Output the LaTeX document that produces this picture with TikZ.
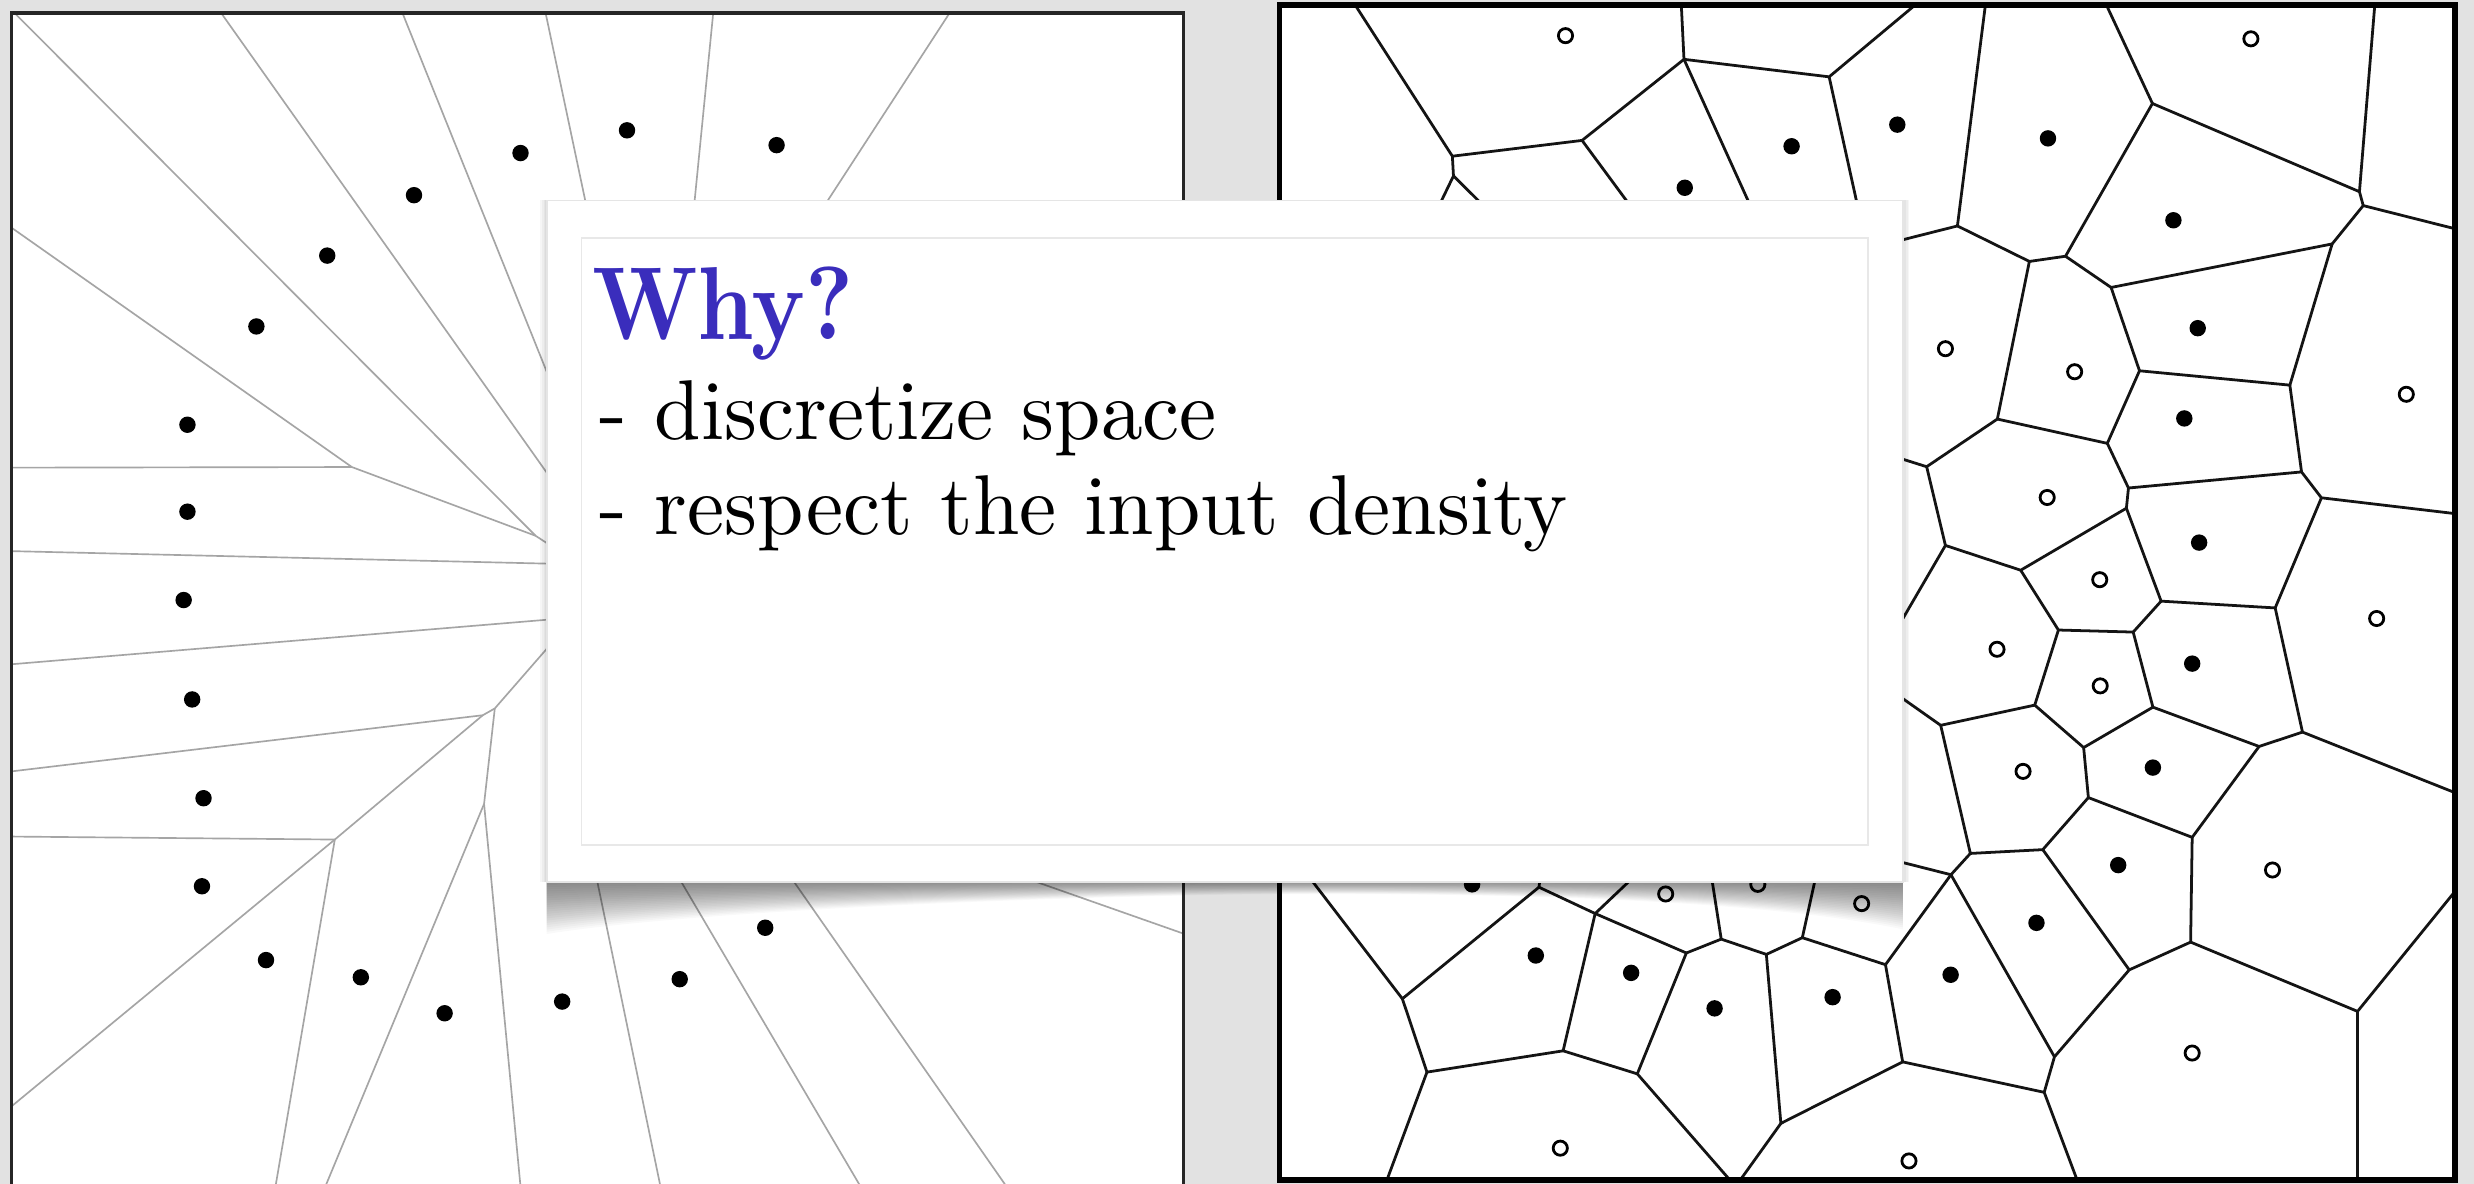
\documentclass[tikz,border=0pt]{standalone}
\usepackage{graphicx}
\definecolor{bggray}{RGB}{226,226,226}
\definecolor{whyblue}{RGB}{58,45,188}
\definecolor{lgline}{RGB}{165,165,165}
\tikzset{
  gline/.style={line width=0.3pt, draw=lgline},
  vline/.style={line width=0.5pt, draw=black!92, line join=round},
  lborder/.style={line width=0.6pt, draw=black!85},
  rborder/.style={line width=1pt, draw=black},
  fdot/.style={fill=black},
  odot/.style={draw=black, fill=white, line width=0.5pt},
  bodytext/.style={anchor=base west, inner sep=0pt},
}
\newcommand{\bodyline}[1]{\scalebox{1.505}[1.53]{\fontsize{10}{12}\selectfont #1}}
\begin{document}
\begin{tikzpicture}[x=0.01cm,y=-0.01cm]
\fill[bggray] (0,0) rectangle (1568,750.3);
\useasboundingbox (0,0) rectangle (1568,750.3);

% ---------------- left panel ----------------
\fill[white] (7.3,8.3) rectangle (750.3,760);
\begin{scope}
\clip (7.3,8.3) rectangle (750.3,760);
\coordinate (lv1) at (339.5,339.6);
\coordinate (lv2) at (223,296);
\coordinate (lv3) at (306,453.3);
\coordinate (lv4) at (313.6,449);
\coordinate (lv5) at (212.2,532.1);
\coordinate (lv6) at (306.8,509.5);
\draw[gline] (7,6) -- (lv1) -- (420,392);
\draw[gline] (7.3,144.3) -- (lv2) -- (lv1);
\draw[gline] (7.3,296.4) -- (lv2);
\draw[gline] (139.5,7.3) -- (378,344);
\draw[gline] (254.7,7.3) -- (370,294);
\draw[gline] (345.6,7.3) -- (380,170);
\draw[gline] (452,8.5) -- (437,160);
\draw[gline] (602,8) -- (500,165);
\draw[gline] (7.3,349.3) -- (380,358);
\draw[gline] (7.3,421) -- (380,390);
\draw[gline] (7.3,488.9) -- (lv3) -- (lv4) -- (365,390);
\draw[gline] (lv4) -- (lv6);
\draw[gline] (lv5) -- (lv3);
\draw[gline] (7.3,530.2) -- (lv5);
\draw[gline] (lv5) -- (7.3,701.2);
\draw[gline] (lv5) -- (174.6,752);
\draw[gline] (lv6) -- (206.2,752);
\draw[gline] (lv6) -- (329.9,752);
\draw[gline] (372,527) -- (418.6,752);
\draw[gline] (413,527) -- (545.4,752);
\draw[gline] (481,527) -- (637.9,752);
\draw[gline] (620,546) -- (752,592.4);
\end{scope}
\foreach \p in {(492.2,92),(397.4,82.6),(329.9,97),(262.4,123.7),(207.4,162),
  (162.5,206.9),(118.8,269.2),(118.8,324.3),(116.4,380.3),(121.8,443.3),
  (129,505.9),(128,561.7),(168.6,608.5),(228.7,619.4),(281.8,642.2),
  (356.3,634.8),(430.8,620.6),(485,588)}
  \fill[fdot] \p circle[radius=0.052cm];
\draw[lborder] (7.3,760) -- (7.3,8.3) -- (750.3,8.3) -- (750.3,760);

% ---------------- right panel ----------------
\fill[white] (811,3) rectangle (1556,748);
\coordinate (A) at (920.5,99);
\coordinate (B) at (1002.7,89);
\coordinate (C) at (921.2,111.5);
\coordinate (D) at (1067.3,37.6);
\coordinate (E) at (1159.3,48.7);
\coordinate (F) at (1240.6,143.2);
\coordinate (G) at (1364.2,65.6);
\coordinate (H1) at (1495.4,121.5);
\coordinate (H2) at (1497.8,130.3);
\coordinate (I) at (1478.1,154.6);
\coordinate (J) at (1309.1,162.4);
\coordinate (K) at (1286.2,165.7);
\coordinate (L) at (1338,182.2);
\coordinate (M) at (1265.9,265.6);
\coordinate (N) at (1356,235);
\coordinate (O) at (1451.3,244.1);
\coordinate (P) at (1335.6,281);
\coordinate (Q) at (1221.1,295.8);
\coordinate (R) at (1233,345.7);
\coordinate (S) at (1349,309.3);
\coordinate (T) at (1458.7,299.1);
\coordinate (U) at (1471.3,315.5);
\coordinate (V) at (1347.7,322.1);
\coordinate (W) at (1280.7,361.4);
\coordinate (X) at (1369.7,381);
\coordinate (Y) at (1442,385.3);
\coordinate (Z1) at (1304.6,399.3);
\coordinate (Z2) at (1352,400.6);
\coordinate (Z3) at (1459.3,464);
\coordinate (Z4) at (1364.5,448.2);
\coordinate (Z5) at (1431.8,473.1);
\coordinate (Z6) at (1289.6,446.9);
\coordinate (Z7) at (1230,459.7);
\coordinate (Z8) at (1320.6,473.8);
\coordinate (Z9) at (1323.6,505.5);
\coordinate (Z10) at (1389.4,530.7);
\coordinate (Z11) at (1248.8,540.9);
\coordinate (Z12) at (1294.7,538.5);
\coordinate (Z13) at (1236.5,554.4);
\coordinate (Z14) at (1195,611.4);
\coordinate (Z15) at (1302.1,669.8);
\coordinate (Z16) at (1349.5,614.7);
\coordinate (Z17) at (1388.4,597.1);
\coordinate (Z18) at (1295.6,692.3);
\coordinate (Z19) at (1494.2,641);
\coordinate (Z20) at (1205.9,673);
\coordinate (Z21) at (1128.7,712);
\coordinate (Z22) at (1119.5,604.9);
\coordinate (Z23) at (1142.3,594.3);
\coordinate (Z24) at (1090.9,595.2);
\coordinate (Z25) at (1068.8,604);
\coordinate (Z26) at (1011,579);
\coordinate (Z27) at (975.4,562.3);
\coordinate (Z28) at (990.7,666);
\coordinate (Z29) at (1037.7,680.6);
\coordinate (Z30) at (888.8,633);
\coordinate (Z31) at (904.4,679.5);
\begin{scope}
\clip (811,3) rectangle (1556,748);
\draw[vline] (857.5,1) -- (A) -- (B) -- (D) -- (1065.5,1);
\draw[vline] (A) -- (C) -- (905,145);
\draw[vline] (C) -- (955,145);
\draw[vline] (B) -- (1044,145);
\draw[vline] (D) -- (E) -- (1216.4,1);
\draw[vline] (D) -- (1116,145);
\draw[vline] (E) -- (1180.5,145);
\draw[vline] (1258.6,1) -- (F) -- (1190,156);
\draw[vline] (F) -- (K) -- (J) -- (G) -- (1334,1);
\draw[vline] (G) -- (H1) -- (1505.3,1);
\draw[vline] (H1) -- (H2) -- (1560,146);
\draw[vline] (H2) -- (I);
\draw[vline] (J) -- (L) -- (I) -- (O);
\draw[vline] (K) -- (M) -- (P) -- (N) -- (L);
\draw[vline] (N) -- (O) -- (T) -- (S) -- (P);
\draw[vline] (M) -- (Q) -- (1190,286);
\draw[vline] (T) -- (U) -- (1560,326);
\draw[vline] (S) -- (V) -- (W) -- (R) -- (Q);
\draw[vline] (R) -- (1195,411);
\draw[vline] (V) -- (X) -- (Y) -- (U);
\draw[vline] (W) -- (Z1) -- (Z2) -- (X);
\draw[vline] (Y) -- (Z3) -- (1560,504);
\draw[vline] (Z2) -- (Z4) -- (Z5) -- (Z3);
\draw[vline] (Z1) -- (Z6) -- (Z7) -- (1190,431.5);
\draw[vline] (Z6) -- (Z8) -- (Z4);
\draw[vline] (Z8) -- (Z9) -- (Z10) -- (Z5);
\draw[vline] (Z7) -- (Z11) -- (Z12) -- (Z9);
\draw[vline] (Z11) -- (Z13) -- (1190,542.6);
\draw[vline] (Z13) -- (Z14);
\draw[vline] (Z13) -- (Z15);
\draw[vline] (Z12) -- (Z16) -- (Z17) -- (Z10);
\draw[vline] (Z16) -- (Z15) -- (Z18) -- (1318,752);
\draw[vline] (Z17) -- (Z19) -- (1560,560);
\draw[vline] (Z19) -- (1494.2,752);
\draw[vline] (Z18) -- (Z20) -- (Z14);
\draw[vline] (Z20) -- (Z21) -- (Z22);
\draw[vline] (Z21) -- (1100,752);
\draw[vline] (Z14) -- (Z23) -- (Z22) -- (Z24) -- (Z25);
\draw[vline] (Z24) -- (1082.3,540);
\draw[vline] (Z23) -- (1154.3,540);
\draw[vline] (Z25) -- (Z26) -- (1050,542);
\draw[vline] (Z26) -- (Z27) -- (978,540);
\draw[vline] (Z26) -- (Z28) -- (Z29) -- (Z25);
\draw[vline] (Z29) -- (1100,752);
\draw[vline] (Z27) -- (Z30) -- (817.6,540);
\draw[vline] (Z30) -- (Z31) -- (Z28);
\draw[vline] (Z31) -- (877.5,752);
\end{scope}
\foreach \p in {(1067.8,119),(1135.5,92.7),(1202.5,79),(1298,87.7),(1377.5,139.6),
  (1392.9,208),(1384.4,265.2),(1393.8,343.9),(1389.4,420.6),(1364.5,486.5),
  (1342.5,548.3),(1290.7,584.9),(1236.3,617.8),(1161.5,632),(1086.7,639.1),
  (1033.8,616.6),(973.4,605.6),(933,560.5)}
  \fill[fdot] \p circle[radius=0.052cm];
\foreach \p in {(992.2,22.6),(1426.6,24.6),(1233,221),(1314.9,235.6),(1525.1,249.9),
  (1297.5,315.3),(1330.8,367.4),(1506.3,392),(1265.7,411.5),(1331.1,434.7),
  (1282.2,488.9),(1440.3,551.4),(1389.4,667.4),(1209.9,735.8),(988.9,727.7),
  (1055.7,566.6),(1114.1,560.5),(1179.9,572.7)}
  \draw[odot] \p circle[radius=0.045cm];
\draw[rborder] (811,3) rectangle (1556,748);

% ---------------- card with shadow ----------------
\foreach \d in {1,2,3,4}
  \fill[black, opacity=0.035] (346.5-\d,127) rectangle (1206+\d,559);
\foreach \k in {1,...,24}
  \fill[black, opacity=0.022]
    (346.5,558) -- (346.5,{558+34*\k/24})
    .. controls (420,{558+22*\k/24}) and (600,{558+12*\k/24}) .. (780,{558+9*\k/24})
    .. controls (960,{558+7*\k/24}) and (1120,{558+13*\k/24}) .. (1206,{558+31*\k/24})
    -- (1206,558) -- cycle;
\fill[white, draw=black!10, line width=0.3pt] (346.5,127) rectangle (1206,559);
\draw[black!9, line width=0.3pt] (368.5,151) rectangle (1184,535.5);

\node[anchor=base west, inner sep=0pt, text=whyblue] (why) at (374.7,215)
  {\scalebox{1.6}[1.87]{\fontsize{10}{12}\selectfont\bfseries Why?}};
\node[bodytext] (l1) at (379,278.7) {\bodyline{- discretize space}};
\node[bodytext] (l2) at (379,339) {\bodyline{- respect the input density}};
\end{tikzpicture}
\end{document}
